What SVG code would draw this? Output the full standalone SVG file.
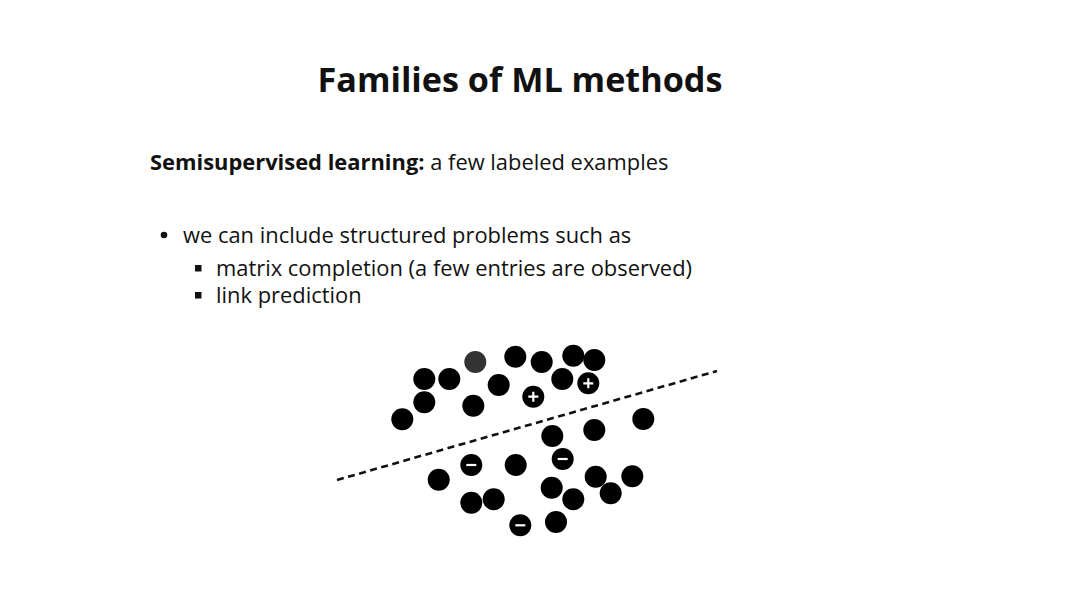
<svg xmlns="http://www.w3.org/2000/svg" width="1080" height="607" viewBox="0 0 1080 607">
<style>
text{font-family:"Open Sans","Noto Sans","Liberation Sans",sans-serif;fill:#111}
.t{font-size:34.2px;font-weight:700}
.b{font-size:21.9px}
.bb{font-weight:700}
.pt circle{fill:#000}
.sg{stroke:#fff;stroke-width:2.2;stroke-linecap:butt}
</style>
<rect width="1080" height="607" fill="#fff"/>
<text class="t" x="520" y="92" text-anchor="middle">Families of ML methods</text>
<text class="b" x="150" y="170"><tspan class="bb">Semisupervised learning:</tspan> a few labeled examples</text>
<circle cx="164" cy="235" r="3.3" fill="#111"/>
<text class="b" x="183" y="243">we can include structured problems such as</text>
<rect x="195" y="265" width="6.5" height="6.5" fill="#111"/>
<text class="b" x="216" y="276">matrix completion (a few entries are observed)</text>
<rect x="195" y="292" width="6.5" height="6.5" fill="#111"/>
<text class="b" x="216" y="303">link prediction</text>
<g id="connectors">
<line x1="337" y1="480" x2="717" y2="371" stroke="#111" stroke-width="2.6" stroke-dasharray="7,4.5"/>
</g>
<g id="points" class="pt">
<circle cx="402.3" cy="419.3" r="11"/>
<circle cx="424.3" cy="379" r="11"/>
<circle cx="424.3" cy="402.3" r="11"/>
<circle cx="449.3" cy="379" r="11"/>
<circle cx="475.3" cy="362" r="11" style="fill:#333"/>
<circle cx="473.3" cy="405.7" r="11"/>
<circle cx="498.7" cy="385" r="11"/>
<circle cx="515.3" cy="356.7" r="11"/>
<circle cx="541.7" cy="362" r="11"/>
<circle cx="562.3" cy="379" r="11"/>
<circle cx="573.3" cy="355.7" r="11"/>
<circle cx="594.3" cy="360" r="11"/>
<circle cx="643.3" cy="419" r="11"/>
<circle cx="594.3" cy="430" r="11"/>
<circle cx="552.3" cy="436" r="11"/>
<circle cx="515.7" cy="465" r="11"/>
<circle cx="438.7" cy="479.7" r="11"/>
<circle cx="471.3" cy="502.7" r="11"/>
<circle cx="493.7" cy="499.3" r="11"/>
<circle cx="551.7" cy="487.7" r="11"/>
<circle cx="573.3" cy="499.3" r="11"/>
<circle cx="595.7" cy="476.7" r="11"/>
<circle cx="610.7" cy="493.3" r="11"/>
<circle cx="632.3" cy="476.3" r="11"/>
<circle cx="556" cy="522" r="11"/>
</g>
<g id="plus1"><circle cx="533.3" cy="396.7" r="11"/><path class="sg" d="M528.3 396.7h10M533.3 391.7v10"/></g>
<g id="plus2"><circle cx="588.3" cy="383.3" r="11"/><path class="sg" d="M583.3 383.3h10M588.3 378.3v10"/></g>
<g id="minus1"><circle cx="471.3" cy="465" r="11"/><path class="sg" d="M466.3 465h10"/></g>
<g id="minus2"><circle cx="562.7" cy="459" r="11"/><path class="sg" d="M557.7 459h10"/></g>
<g id="minus3"><circle cx="520.3" cy="525.3" r="11"/><path class="sg" d="M515.3 525.3h10"/></g>
</svg>
